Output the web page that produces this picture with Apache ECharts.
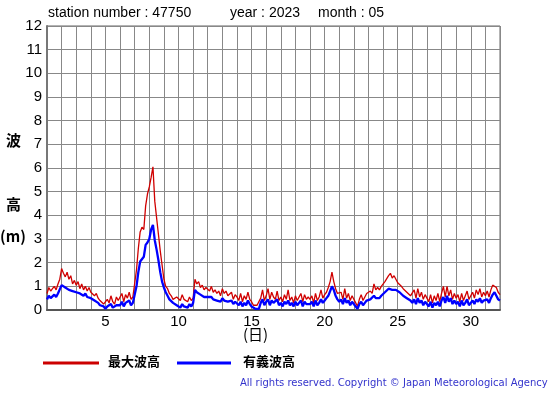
<!DOCTYPE html>
<html><head><meta charset="utf-8">
<script src="https://cdn.jsdelivr.net/npm/echarts@6/dist/echarts.min.js"></script>
<style>html,body{margin:0;padding:0;background:#fff}#c{width:555px;height:395px}</style>
</head><body><div id="c"></div>
<script>
// 3-hourly values, day 1 00:00 .. day 32 00:00
var startDay = 1;
var stepDays = 0.125;
var maxWave = [
0.70,0.95,0.80,0.90,1.00,0.85,1.10,1.30,
1.75,1.55,1.40,1.60,1.30,1.45,1.10,1.25,
1.05,1.20,0.90,1.10,0.85,1.00,0.80,0.95,
0.75,0.80,0.60,0.70,0.50,0.40,0.45,0.25,
0.20,0.45,0.30,0.60,0.35,0.25,0.55,0.40,
0.45,0.70,0.35,0.65,0.50,0.75,0.45,0.55,
0.50,1.70,2.60,3.30,3.50,3.40,4.40,4.90,
5.20,5.60,6.05,4.60,3.90,3.20,2.50,1.90,
1.30,1.00,0.90,0.70,0.60,0.45,0.50,0.55,
0.60,0.40,0.65,0.45,0.50,0.35,0.55,0.40,
0.50,1.30,1.10,1.20,0.95,1.05,0.85,0.95,
0.90,0.80,1.00,0.75,0.85,0.70,0.80,0.60,
0.90,0.70,0.80,0.60,0.55,0.75,0.45,0.65,
0.55,0.40,0.70,0.35,0.60,0.45,0.75,0.45,
0.35,0.20,0.15,0.20,0.15,0.50,0.85,0.40,
0.60,0.90,0.45,0.75,0.55,0.45,0.80,0.40,
0.55,0.35,0.65,0.45,0.85,0.40,0.55,0.30,
0.60,0.40,0.55,0.70,0.35,0.65,0.45,0.55,
0.45,0.60,0.30,0.70,0.40,0.55,0.85,0.50,
0.65,0.75,0.95,1.20,1.60,1.20,0.90,0.70,
0.65,0.75,0.45,0.90,0.50,0.70,0.40,0.60,
0.55,0.30,0.15,0.45,0.65,0.40,0.55,0.70,
0.65,0.80,0.70,1.10,0.85,0.95,0.85,1.00,
1.00,1.20,1.15,1.45,1.55,1.35,1.45,1.30,
1.15,1.10,1.00,0.90,0.95,0.75,0.70,0.60,
0.60,0.85,0.50,0.90,0.55,0.75,0.45,0.65,
0.50,0.35,0.65,0.30,0.60,0.40,0.70,0.35,
0.70,1.00,0.55,1.00,0.60,0.85,0.45,0.70,
0.50,0.65,0.35,0.70,0.40,0.60,0.80,0.45,
0.60,0.75,0.50,0.85,0.65,0.90,0.55,0.75,
0.60,0.80,0.55,0.85,1.05,1.10,0.95,0.75,
0.65];
var sigWave = [
0.45,0.60,0.50,0.55,0.65,0.55,0.70,0.75,
1.05,1.10,0.95,1.00,0.85,0.90,0.80,0.85,
0.75,0.80,0.70,0.75,0.60,0.70,0.55,0.60,
0.50,0.55,0.40,0.45,0.30,0.20,0.25,0.15,
0.05,0.15,0.10,0.25,0.10,0.05,0.20,0.15,
0.20,0.35,0.15,0.30,0.25,0.40,0.20,0.30,
0.30,1.00,1.60,2.05,2.10,2.25,2.75,2.85,
3.00,3.40,3.60,2.95,2.55,2.10,1.60,1.20,
0.95,0.75,0.60,0.45,0.40,0.30,0.25,0.20,
0.20,0.10,0.25,0.15,0.20,0.10,0.25,0.15,
0.30,0.85,0.75,0.80,0.65,0.70,0.55,0.60,
0.55,0.50,0.55,0.45,0.50,0.40,0.45,0.35,
0.50,0.40,0.45,0.35,0.30,0.40,0.25,0.35,
0.30,0.20,0.35,0.15,0.30,0.20,0.40,0.25,
0.15,0.10,0.05,0.10,0.05,0.30,0.45,0.20,
0.35,0.45,0.20,0.40,0.30,0.25,0.45,0.20,
0.30,0.15,0.35,0.25,0.40,0.20,0.30,0.15,
0.35,0.20,0.30,0.40,0.15,0.35,0.25,0.30,
0.25,0.35,0.15,0.40,0.20,0.30,0.45,0.30,
0.40,0.50,0.60,0.80,1.00,0.85,0.60,0.45,
0.35,0.45,0.25,0.50,0.30,0.40,0.20,0.35,
0.30,0.15,0.05,0.25,0.35,0.20,0.30,0.40,
0.35,0.45,0.40,0.60,0.50,0.55,0.50,0.60,
0.60,0.75,0.70,0.90,0.95,0.85,0.90,0.85,
0.80,0.75,0.70,0.60,0.65,0.50,0.45,0.40,
0.30,0.45,0.25,0.50,0.30,0.40,0.20,0.35,
0.25,0.15,0.35,0.10,0.30,0.20,0.35,0.15,
0.40,0.55,0.30,0.60,0.35,0.50,0.25,0.40,
0.25,0.35,0.15,0.40,0.20,0.30,0.45,0.20,
0.30,0.40,0.25,0.45,0.35,0.50,0.30,0.40,
0.35,0.45,0.30,0.50,0.65,0.75,0.60,0.45,
0.40];
var xTickLabels = [5, 10, 15, 20, 25, 30];
var yTicks = [0,1,2,3,4,5,6,7,8,9,10,11,12];

function pairs(arr){ return arr.map(function(v,i){ return [startDay + i*stepDays, v]; }); }

var chart = echarts.init(document.getElementById('c'), null, {renderer:'canvas'});
var font = 'Liberation Sans, Arial, sans-serif';
chart.setOption({
  animation:false,
  backgroundColor:'#fff',
  grid:{left:47, right:55, top:26, bottom:85, show:true, borderColor:'#666', borderWidth:1},
  xAxis:{type:'value', min:1, max:32, interval:1,
    axisLine:{show:true, lineStyle:{color:'#555', width:2}}, axisTick:{show:false},
    splitLine:{show:true, lineStyle:{color:'#888', width:1}},
    axisLabel:{color:'#000', fontSize:15, fontFamily:font, margin:4,
      formatter:function(v){ return xTickLabels.indexOf(v)>=0 ? String(v) : ''; }}},
  yAxis:{type:'value', min:0, max:12, interval:1,
    axisLine:{show:true, lineStyle:{color:'#777', width:2}}, axisTick:{show:false},
    splitLine:{show:true, lineStyle:{color:'#888', width:1}},
    axisLabel:{color:'#000', fontSize:15, fontFamily:font, margin:5,
      formatter:function(v){ return yTicks.indexOf(v)>=0 ? String(v) : ''; }}},
  series:[
    {type:'line', data:pairs(maxWave), showSymbol:false, lineStyle:{color:'#d00000', width:1.3}, z:2},
    {type:'line', data:pairs(sigWave), showSymbol:false, lineStyle:{color:'#0000ff', width:2.3}, z:3}
  ],
  graphic:[
    {type:'text', left:48, top:6, style:{text:'station number : 47750', fill:'#000', font:'14px '+font}},
    {type:'text', left:230, top:6, style:{text:'year : 2023', fill:'#000', font:'14px '+font}},
    {type:'text', left:318, top:6, style:{text:'month : 05', fill:'#000', font:'14px '+font}},
    {type:'text', left:6, top:133, style:{text:'波', fill:'#000', font:'bold 15px Noto Sans CJK JP'}},
    {type:'text', left:6, top:197, style:{text:'高', fill:'#000', font:'bold 15px Noto Sans CJK JP'}},
    {type:'text', left:0, top:229, style:{text:'(m)', fill:'#000', font:'bold 15px Noto Sans CJK JP'}},
    {type:'text', left:243, top:327, style:{text:'(日)', fill:'#000', font:'15px Noto Sans CJK JP'}},
    {type:'line', shape:{x1:43, y1:363, x2:99, y2:363}, style:{stroke:'#cc0000', lineWidth:3}},
    {type:'text', left:108, top:355, style:{text:'最大波高', fill:'#000', font:'bold 13px Noto Sans CJK JP'}},
    {type:'line', shape:{x1:177, y1:363, x2:231, y2:363}, style:{stroke:'#0000ff', lineWidth:3}},
    {type:'text', left:243, top:355, style:{text:'有義波高', fill:'#000', font:'bold 13px Noto Sans CJK JP'}},
    {type:'text', left:240, top:378, style:{text:'All rights reserved. Copyright © Japan Meteorological Agency', fill:'#3333cc', font:'10px DejaVu Sans'}}
  ]
});
</script></body></html>
